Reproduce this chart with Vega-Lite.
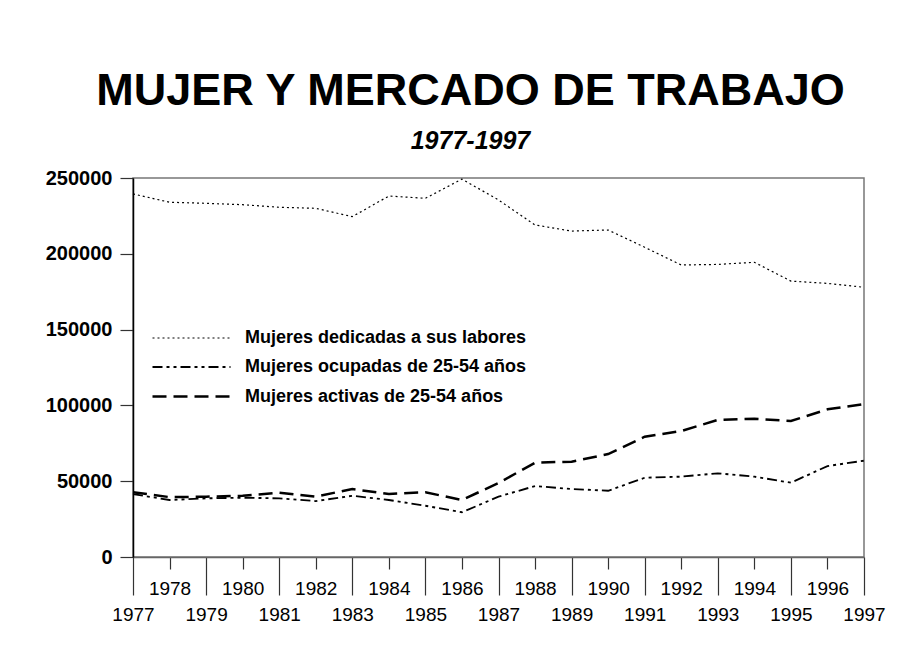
{
  "$schema": "https://vega.github.io/schema/vega-lite/v6.json",
  "autosize": {"type": "none"},
  "padding": {"left": 133, "top": 178, "right": 37, "bottom": 89},
  "width": 731,
  "height": 379,
  "background": "white",
  "title": {
    "text": "MUJER Y MERCADO DE TRABAJO",
    "subtitle": "1977-1997",
    "anchor": "middle",
    "dx": -28,
    "offset": 14,
    "font": "Liberation Sans",
    "fontSize": 45,
    "fontWeight": "bold",
    "color": "black",
    "subtitleFont": "Liberation Sans",
    "subtitleFontSize": 25,
    "subtitleFontWeight": "bold",
    "subtitleFontStyle": "italic",
    "subtitleColor": "black",
    "subtitlePadding": 15
  },
  "data": {"values": [
    {"year": 1977, "serie": "Mujeres dedicadas a sus labores", "value": 239500},
    {"year": 1978, "serie": "Mujeres dedicadas a sus labores", "value": 234000},
    {"year": 1979, "serie": "Mujeres dedicadas a sus labores", "value": 233300},
    {"year": 1980, "serie": "Mujeres dedicadas a sus labores", "value": 232400},
    {"year": 1981, "serie": "Mujeres dedicadas a sus labores", "value": 230700},
    {"year": 1982, "serie": "Mujeres dedicadas a sus labores", "value": 230000},
    {"year": 1983, "serie": "Mujeres dedicadas a sus labores", "value": 224500},
    {"year": 1984, "serie": "Mujeres dedicadas a sus labores", "value": 238100},
    {"year": 1985, "serie": "Mujeres dedicadas a sus labores", "value": 236600},
    {"year": 1986, "serie": "Mujeres dedicadas a sus labores", "value": 249300},
    {"year": 1987, "serie": "Mujeres dedicadas a sus labores", "value": 235500},
    {"year": 1988, "serie": "Mujeres dedicadas a sus labores", "value": 219000},
    {"year": 1989, "serie": "Mujeres dedicadas a sus labores", "value": 215000},
    {"year": 1990, "serie": "Mujeres dedicadas a sus labores", "value": 215700},
    {"year": 1991, "serie": "Mujeres dedicadas a sus labores", "value": 204300},
    {"year": 1992, "serie": "Mujeres dedicadas a sus labores", "value": 192600},
    {"year": 1993, "serie": "Mujeres dedicadas a sus labores", "value": 193000},
    {"year": 1994, "serie": "Mujeres dedicadas a sus labores", "value": 194400},
    {"year": 1995, "serie": "Mujeres dedicadas a sus labores", "value": 182000},
    {"year": 1996, "serie": "Mujeres dedicadas a sus labores", "value": 180500},
    {"year": 1997, "serie": "Mujeres dedicadas a sus labores", "value": 177900},
    {"year": 1977, "serie": "Mujeres ocupadas de 25-54 años", "value": 41500},
    {"year": 1978, "serie": "Mujeres ocupadas de 25-54 años", "value": 37600},
    {"year": 1979, "serie": "Mujeres ocupadas de 25-54 años", "value": 38700},
    {"year": 1980, "serie": "Mujeres ocupadas de 25-54 años", "value": 39100},
    {"year": 1981, "serie": "Mujeres ocupadas de 25-54 años", "value": 38700},
    {"year": 1982, "serie": "Mujeres ocupadas de 25-54 años", "value": 36900},
    {"year": 1983, "serie": "Mujeres ocupadas de 25-54 años", "value": 40400},
    {"year": 1984, "serie": "Mujeres ocupadas de 25-54 años", "value": 37600},
    {"year": 1985, "serie": "Mujeres ocupadas de 25-54 años", "value": 33800},
    {"year": 1986, "serie": "Mujeres ocupadas de 25-54 años", "value": 29500},
    {"year": 1987, "serie": "Mujeres ocupadas de 25-54 años", "value": 39800},
    {"year": 1988, "serie": "Mujeres ocupadas de 25-54 años", "value": 46800},
    {"year": 1989, "serie": "Mujeres ocupadas de 25-54 años", "value": 44850},
    {"year": 1990, "serie": "Mujeres ocupadas de 25-54 años", "value": 43700},
    {"year": 1991, "serie": "Mujeres ocupadas de 25-54 años", "value": 52300},
    {"year": 1992, "serie": "Mujeres ocupadas de 25-54 años", "value": 53000},
    {"year": 1993, "serie": "Mujeres ocupadas de 25-54 años", "value": 55200},
    {"year": 1994, "serie": "Mujeres ocupadas de 25-54 años", "value": 53000},
    {"year": 1995, "serie": "Mujeres ocupadas de 25-54 años", "value": 49000},
    {"year": 1996, "serie": "Mujeres ocupadas de 25-54 años", "value": 60000},
    {"year": 1997, "serie": "Mujeres ocupadas de 25-54 años", "value": 63500},
    {"year": 1977, "serie": "Mujeres activas de 25-54 años", "value": 42700},
    {"year": 1978, "serie": "Mujeres activas de 25-54 años", "value": 39500},
    {"year": 1979, "serie": "Mujeres activas de 25-54 años", "value": 39800},
    {"year": 1980, "serie": "Mujeres activas de 25-54 años", "value": 40400},
    {"year": 1981, "serie": "Mujeres activas de 25-54 años", "value": 42400},
    {"year": 1982, "serie": "Mujeres activas de 25-54 años", "value": 39800},
    {"year": 1983, "serie": "Mujeres activas de 25-54 años", "value": 44850},
    {"year": 1984, "serie": "Mujeres activas de 25-54 años", "value": 41550},
    {"year": 1985, "serie": "Mujeres activas de 25-54 años", "value": 42700},
    {"year": 1986, "serie": "Mujeres activas de 25-54 años", "value": 37600},
    {"year": 1987, "serie": "Mujeres activas de 25-54 años", "value": 48800},
    {"year": 1988, "serie": "Mujeres activas de 25-54 años", "value": 62200},
    {"year": 1989, "serie": "Mujeres activas de 25-54 años", "value": 62900},
    {"year": 1990, "serie": "Mujeres activas de 25-54 años", "value": 67900},
    {"year": 1991, "serie": "Mujeres activas de 25-54 años", "value": 79350},
    {"year": 1992, "serie": "Mujeres activas de 25-54 años", "value": 83100},
    {"year": 1993, "serie": "Mujeres activas de 25-54 años", "value": 90400},
    {"year": 1994, "serie": "Mujeres activas de 25-54 años", "value": 91200},
    {"year": 1995, "serie": "Mujeres activas de 25-54 años", "value": 89700},
    {"year": 1996, "serie": "Mujeres activas de 25-54 años", "value": 97400},
    {"year": 1997, "serie": "Mujeres activas de 25-54 años", "value": 100900}
  ]},
  "mark": {"type": "line", "color": "black", "strokeCap": "butt"},
  "encoding": {
    "x": {
      "field": "year",
      "type": "quantitative",
      "scale": {"domain": [1977, 1997], "nice": false, "zero": false},
      "axis": {
        "title": null,
        "values": [1977,1978,1979,1980,1981,1982,1983,1984,1985,1986,1987,1988,1989,1990,1991,1992,1993,1994,1995,1996,1997],
        "format": "d",
        "labelFont": "Liberation Sans",
        "labelFontSize": 19,
        "labelColor": "black",
        "labelPadding": 10,
        "labelFlush": false,
        "labelOverlap": false,
        "tickSize": {"condition": {"test": "datum.value % 2 == 1", "value": 38}, "value": 12},
        "tickColor": "#333333",
        "tickWidth": 1.2,
        "domainColor": "#666666",
        "domainWidth": 1.5,
        "grid": false
      }
    },
    "y": {
      "field": "value",
      "type": "quantitative",
      "scale": {"domain": [0, 250000], "nice": false},
      "axis": {
        "title": null,
        "values": [0, 50000, 100000, 150000, 200000, 250000],
        "format": "d",
        "labelFont": "Liberation Sans",
        "labelFontSize": 20,
        "labelFontWeight": "bold",
        "labelColor": "black",
        "labelPadding": 8,
        "tickSize": 13,
        "tickColor": "#333333",
        "tickWidth": 1.2,
        "domainColor": "black",
        "domainWidth": 1.5,
        "grid": false
      }
    },
    "strokeDash": {
      "field": "serie",
      "type": "nominal",
      "scale": {
        "domain": ["Mujeres dedicadas a sus labores", "Mujeres ocupadas de 25-54 años", "Mujeres activas de 25-54 años"],
        "range": [[2, 3], [10, 4, 3, 4, 3, 4], [14, 7]]
      },
      "legend": {
        "title": null,
        "orient": "none",
        "legendX": 44,
        "legendY": 146,
        "padding": 0,
        "symbolType": "M-3,0H3",
        "symbolSize": 676,
        "symbolStrokeColor": "black",
        "symbolFillColor": "transparent",
        "labelOffset": 39,
        "labelFont": "Liberation Sans",
        "labelFontSize": 18,
        "labelFontWeight": "bold",
        "labelColor": "black",
        "labelLimit": 500,
        "rowPadding": 6
      }
    },
    "strokeWidth": {
      "field": "serie",
      "type": "nominal",
      "scale": {
        "domain": ["Mujeres dedicadas a sus labores", "Mujeres ocupadas de 25-54 años", "Mujeres activas de 25-54 años"],
        "range": [1.2, 2.5, 3.5]
      },
      "legend": {
        "title": null,
        "orient": "none",
        "legendX": 44,
        "legendY": 146,
        "padding": 0,
        "symbolType": "M-3,0H3",
        "symbolSize": 676,
        "symbolStrokeColor": "black",
        "symbolFillColor": "transparent",
        "labelOffset": 39,
        "labelFont": "Liberation Sans",
        "labelFontSize": 18,
        "labelFontWeight": "bold",
        "labelColor": "black",
        "labelLimit": 500,
        "rowPadding": 6
      }
    }
  },
  "config": {
    "view": {"stroke": "#777777", "strokeWidth": 1.5},
    "font": "Liberation Sans"
  }
}
